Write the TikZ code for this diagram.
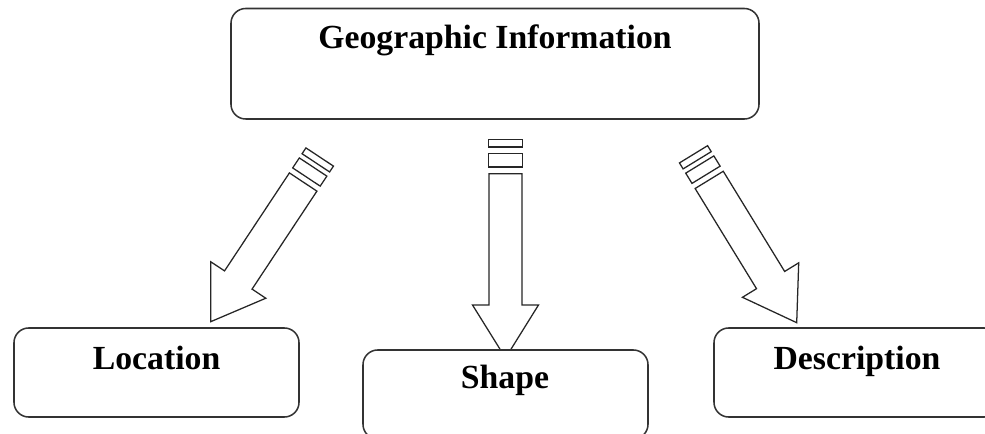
\documentclass[tikz,border=0pt]{standalone}
\usepackage{fontspec}
\setmainfont{Liberation Serif}
\begin{document}
\begin{tikzpicture}[x=0.75pt,y=-0.75pt,
  box/.style={draw=black!80, line width=1.15pt, rounded corners=11pt, fill=white, inner sep=0pt},
  lbl/.style={anchor=base, inner sep=0pt, font=\fontsize{25.3}{30}\selectfont\bfseries},
  arr/.style={draw=black!85, line width=0.95pt, line join=miter, fill=white}]
\useasboundingbox (0,0) rectangle (985,434);
\clip (0,0) rectangle (985,434);

% left arrow
\begin{scope}[shift={(210.7,321.7)}, rotate=56.5]
  \coordinate (la) at (0,0);
  \draw[arr] (0,0) -- (50,33) -- (50,16.5) -- (167.5,16.5) -- (167.5,-16.5) -- (50,-16.5) -- (50,-33) -- cycle;
  \draw[arr] (173.5,-16.5) rectangle (185.5,16.5);
  \draw[arr] (190.5,-16.5) rectangle (197.5,16.5);
\end{scope}

% centre arrow
\begin{scope}[shift={(505.5,358)}, rotate=90]
  \coordinate (ca) at (0,0);
  \draw[arr] (0,0) -- (53,33) -- (53,16.5) -- (184.3,16.5) -- (184.3,-16.5) -- (53,-16.5) -- (53,-33) -- cycle;
  \draw[arr] (191,-17) rectangle (204.3,17);
  \draw[arr] (211,-17) rectangle (218.7,17);
\end{scope}

% right arrow
\begin{scope}[shift={(796.7,322.7)}, rotate=121.5]
  \coordinate (ra) at (0,0);
  \draw[arr] (0,0) -- (50,33) -- (50,16.5) -- (167.5,16.5) -- (167.5,-16.5) -- (50,-16.5) -- (50,-33) -- cycle;
  \draw[arr] (173.5,-16.5) rectangle (185.5,16.5);
  \draw[arr] (190.5,-16.5) rectangle (197.5,16.5);
\end{scope}

% boxes
\node[box, minimum width=528*0.75pt, minimum height=110.5*0.75pt] (geo) at (495,63.75) {};
\node[box, minimum width=285*0.75pt, minimum height=89*0.75pt] (loc) at (156.5,372.5) {};
\node[box, minimum width=285*0.75pt, minimum height=89*0.75pt] (shp) at (505.5,394.5) {};
\node[box, minimum width=285*0.75pt, minimum height=89*0.75pt] (des) at (856.5,372.5) {};

\node[lbl] (geoT) at (495,48.3) {Geographic Information};
\node[lbl] (locT) at (156.6,369.3) {Location};
\node[lbl] (shpT) at (505,388.3) {Shape};
\node[lbl] (desT) at (857,369.3) {Description};
\end{tikzpicture}
\end{document}
